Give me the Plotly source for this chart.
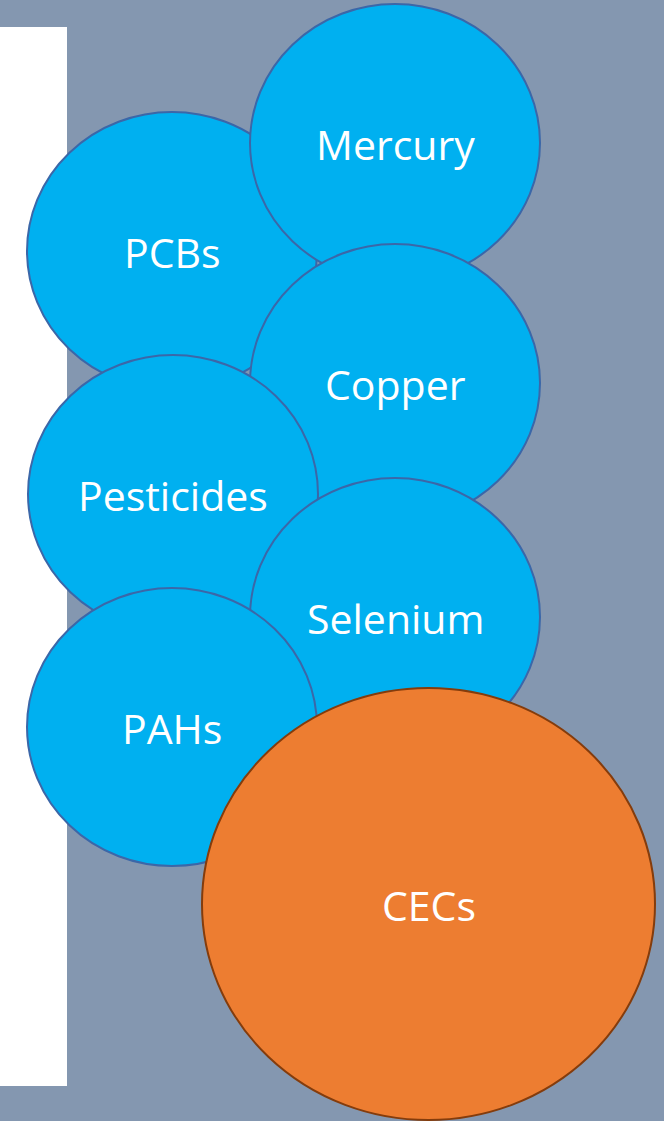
import plotly.graph_objects as go

# Diagram content (pixel space, y downward)
labels = ["PCBs", "Mercury", "Copper", "Pesticides", "Selenium", "PAHs", "CECs"]
center_x = [172, 395, 395, 173, 395, 172, 428.5]
center_y = [251, 143, 383, 494, 617, 727, 904]
radius_x = [145, 145, 145, 145, 145, 145, 226.5]
radius_y = [139, 139, 139, 139, 139, 139, 216]
fill_colors = ["#00B0F0"] * 6 + ["#ED7D31"]
line_colors = ["#3B67A8"] * 6 + ["#843C0C"]

W, H = 664, 1121

fig = go.Figure()
fig.add_trace(go.Scatter(x=[0, W], y=[0, H], mode="markers",
                         marker=dict(opacity=0), hoverinfo="skip", showlegend=False))

shapes = [dict(type="rect", xref="x", yref="y", x0=0, x1=67, y0=27, y1=1086,
               fillcolor="white", line=dict(width=0), layer="above")]
annotations = []
for lab, cx, cy, rx, ry, fc, lc in zip(labels, center_x, center_y, radius_x, radius_y,
                                        fill_colors, line_colors):
    shapes.append(dict(type="circle", xref="x", yref="y",
                       x0=cx - rx, x1=cx + rx, y0=cy - ry, y1=cy + ry,
                       fillcolor=fc, line=dict(color=lc, width=2), layer="above"))
    annotations.append(dict(x=cx, y=cy + 1, xref="x", yref="y", text=lab, showarrow=False,
                            font=dict(family="Open Sans", size=41, color="white"),
                            xanchor="center", yanchor="middle"))

fig.update_layout(
    width=W, height=H,
    margin=dict(l=0, r=0, t=0, b=0),
    paper_bgcolor="#8497B0", plot_bgcolor="#8497B0",
    shapes=shapes, annotations=annotations,
    xaxis=dict(range=[0, W], visible=False, fixedrange=True),
    yaxis=dict(range=[H, 0], visible=False, fixedrange=True),
    showlegend=False,
)

fig.write_html("out.html", config={"displayModeBar": False},
               post_script="document.body.style.margin='0';document.body.style.padding='0';")
